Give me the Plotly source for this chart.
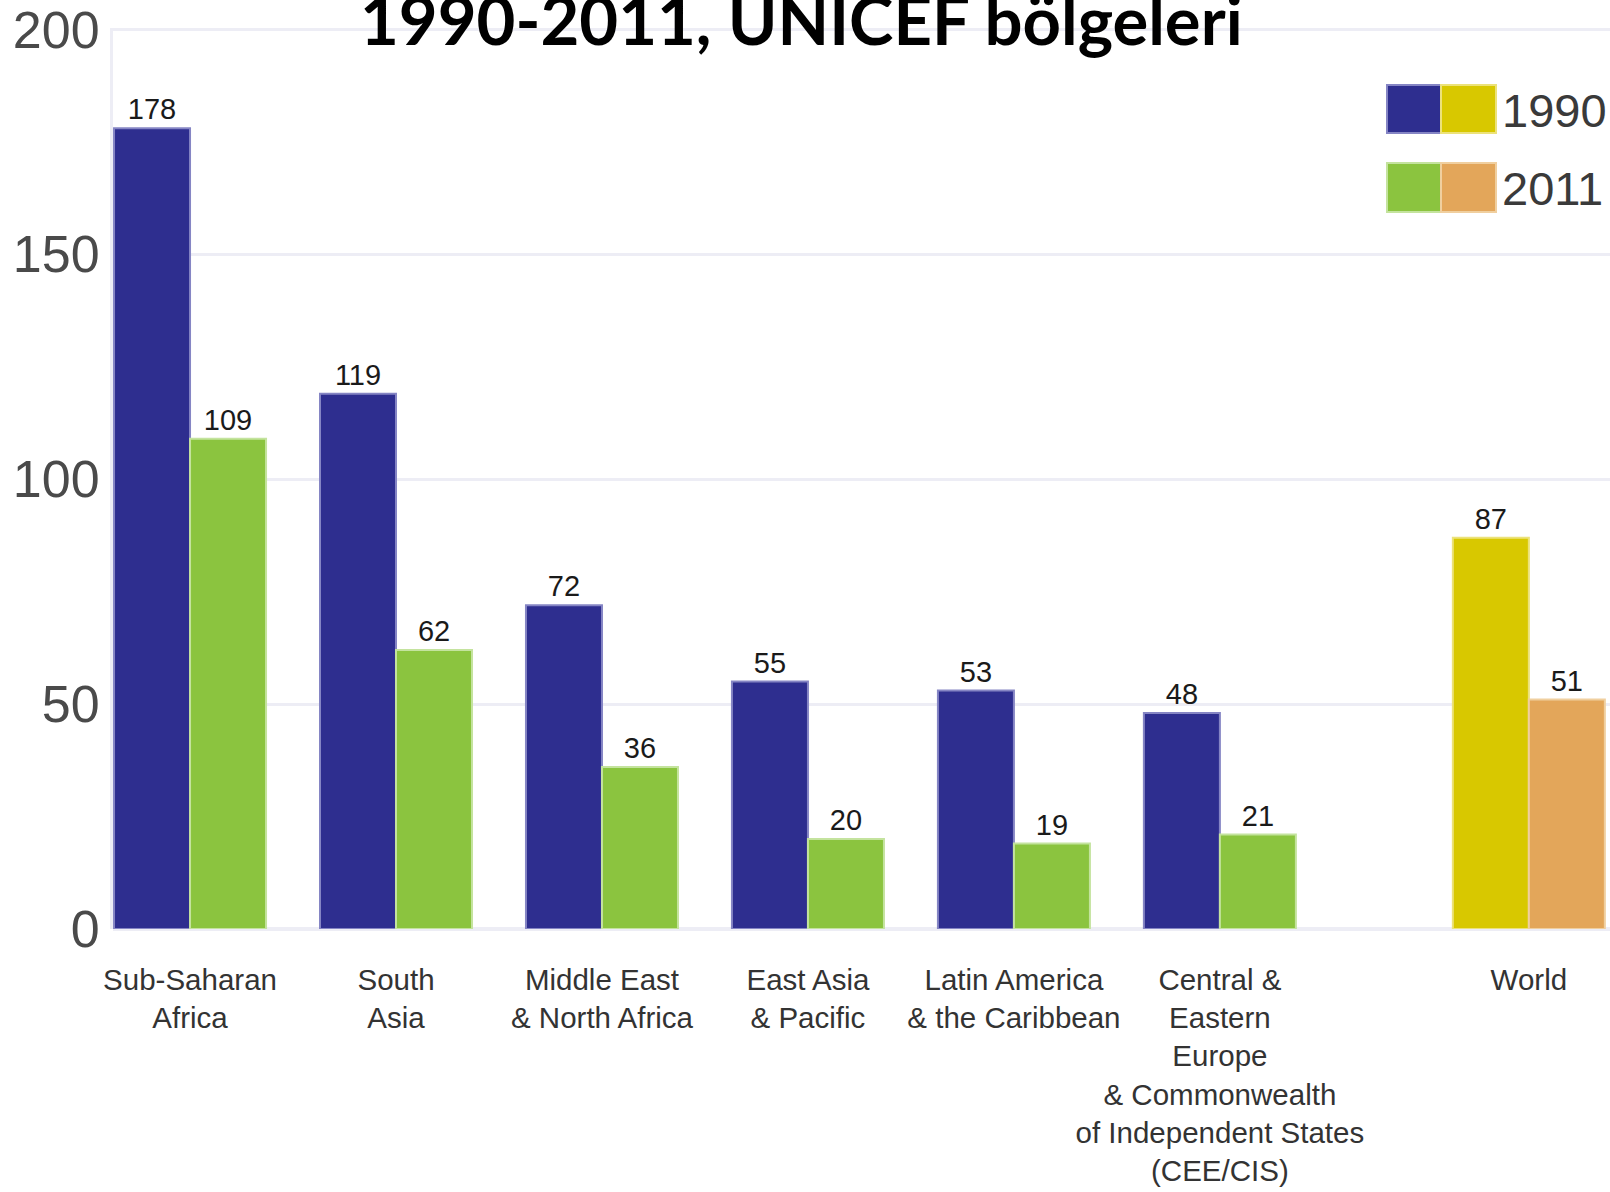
import plotly.graph_objects as go

# ---- data ----
regions = ["Sub-Saharan<br>Africa", "South<br>Asia", "Middle East<br>& North Africa",
           "East Asia<br>& Pacific", "Latin America<br>& the Caribbean",
           "Central &<br>Eastern<br>Europe<br>& Commonwealth<br>of Independent States<br>(CEE/CIS)",
           "World"]
positions = [0, 1, 2, 3, 4, 5, 6.5]
values_1990 = [178, 119, 72, 55, 53, 48, 87]
values_2011 = [109, 62, 36, 20, 19, 21, 51]
y_ticks = [0, 50, 100, 150, 200]
legend_labels = ["1990", "2011"]
title_text = "1990-2011, UNICEF bölgeleri"

# ---- styles ----
BLUE, GREEN, YELLOW, ORANGE = "#2e2e8f", "#8bc43f", "#d8c800", "#e3a65a"
BLUE_E, GREEN_E, YELLOW_E, ORANGE_E = "#8585c4", "#c4e39e", "#ece27a", "#f0cf9f"

W, H = 1610, 1192
L, R, T, B = 113, 0, 28, 263
PW, PH = W - L - R, H - T - B


def pxx(px):
    return (px - L) / PW


def pxy(py):
    return (H - B - py) / PH


c1990 = [YELLOW if r == "World" else BLUE for r in regions]
c2011 = [ORANGE if r == "World" else GREEN for r in regions]
e1990 = [YELLOW_E if r == "World" else BLUE_E for r in regions]
e2011 = [ORANGE_E if r == "World" else GREEN_E for r in regions]

label_font = dict(family="Liberation Sans, Arial, sans-serif", size=29, color="#1a1a1a")

fig = go.Figure()
fig.add_trace(go.Bar(x=positions, y=values_1990, name=legend_labels[0],
                     marker=dict(color=c1990, line=dict(color=e1990, width=2)),
                     text=values_1990, textposition="outside", textfont=label_font,
                     cliponaxis=False))
fig.add_trace(go.Bar(x=positions, y=values_2011, name=legend_labels[1],
                     marker=dict(color=c2011, line=dict(color=e2011, width=2)),
                     text=values_2011, textposition="outside", textfont=label_font,
                     cliponaxis=False))

# custom double-swatch legend
shapes = []
rows = [(85, 133, BLUE, YELLOW, BLUE_E, YELLOW_E), (163, 212, GREEN, ORANGE, GREEN_E, ORANGE_E)]
for (y0, y1, ca, cb, ea, eb) in rows:
    shapes.append(dict(type="rect", xref="paper", yref="paper", x0=pxx(1387), x1=pxx(1441),
                       y0=pxy(y1), y1=pxy(y0), fillcolor=ca, line=dict(color=ea, width=2), layer="above"))
    shapes.append(dict(type="rect", xref="paper", yref="paper", x0=pxx(1441), x1=pxx(1496),
                       y0=pxy(y1), y1=pxy(y0), fillcolor=cb, line=dict(color=eb, width=2), layer="above"))

annotations = []
for lbl, (y0, y1, *_r) in zip(legend_labels, rows):
    annotations.append(dict(text=lbl, xref="paper", yref="paper", x=pxx(1500), y=pxy((y0 + y1) / 2 + 1),
                            xanchor="left", yanchor="middle", showarrow=False,
                            font=dict(family="Liberation Sans, Arial", size=47, color="#3a3a3a")))
annotations.append(dict(text="<b>" + title_text + "</b>", xref="paper", yref="paper",
                        x=pxx(801), y=pxy(61), xanchor="center", yanchor="bottom", showarrow=False,
                        font=dict(family="Lato, Carlito, sans-serif", size=67, color="#000000")))

fig.update_layout(
    width=W, height=H,
    margin=dict(l=L, r=R, t=T, b=B, autoexpand=False),
    paper_bgcolor="white", plot_bgcolor="white",
    barmode="group", bargap=0.262, bargroupgap=0,
    showlegend=False,
    shapes=shapes, annotations=annotations,
    xaxis=dict(range=[-0.374, 6.894], tickvals=positions, ticktext=regions, automargin=False,
               tickangle=0, showgrid=False, zeroline=False, showline=False, ticks="",
               ticklabelstandoff=30,
               tickfont=dict(family="Liberation Sans, Arial, sans-serif", size=29.5, color="#333333")),
    yaxis=dict(range=[0, 200.3], tickvals=y_ticks, showgrid=True, gridcolor="#ededf5", gridwidth=3,
               automargin=False,
               zeroline=True, zerolinecolor="#ededf5", zerolinewidth=4,
               showline=True, linecolor="#ededf5", linewidth=3, ticks="",
               ticklabelstandoff=0,
               tickfont=dict(family="Liberation Sans, Arial", size=52, color="#4a4a4a")),
)

fig.write_html("out.html", config={"displayModeBar": False},
               post_script="document.body.style.margin='0px';")
